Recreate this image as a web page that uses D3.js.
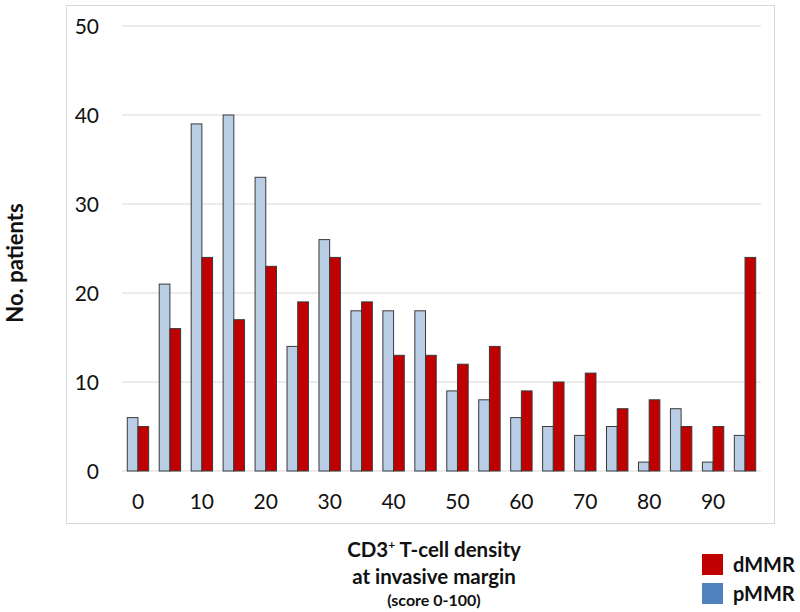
<!DOCTYPE html>
<html><head><meta charset="utf-8">
<script src="https://cdn.jsdelivr.net/npm/d3@7"></script>
<style>body{margin:0;background:#fff;}svg{display:block;}</style>
</head><body>
<svg id="c" width="800" height="612"></svg>
<script>
const categories = ["0","5","10","15","20","25","30","35","40","45","50","55","60","65","70","75","80","85","90","95"];
const tickLabels = ["0","10","20","30","40","50","60","70","80","90"];
const pMMR = [6,21,39,40,33,14,26,18,18,18,9,8,6,5,4,5,1,7,1,4];
const dMMR = [5,16,24,17,23,19,24,19,13,13,12,14,9,10,11,7,8,5,5,24];
const seriesNames = ["pMMR","dMMR"];
const yTicks = [0,10,20,30,40,50];

(function(){
const svg = d3.select("#c");
const font = "Lato, 'Open Sans', sans-serif";
const pLeft = 122, pRight = 761, pTop = 26, pBottom = 471;

svg.append("rect").attr("x",66.5).attr("y",5.5).attr("width",708).attr("height",518)
  .attr("fill","none").attr("stroke","#d9d9d9").attr("stroke-width",1);

const x = d3.scaleBand().domain(categories).range([pLeft,pRight]).paddingInner(0.33).paddingOuter(0.165);
const xs = d3.scaleBand().domain(seriesNames).range([0,x.bandwidth()]);
const y = d3.scaleLinear().domain([0,50]).range([pBottom,pTop]);

// gridlines
svg.append("g").selectAll("line").data(yTicks).join("line")
  .attr("x1",pLeft).attr("x2",pRight).attr("y1",d=>y(d)).attr("y2",d=>y(d))
  .attr("stroke","#e6e6e6").attr("stroke-width",1.5);

// y axis labels
const yAxis = d3.axisLeft(y).tickValues(yTicks).tickSize(0).tickPadding(0);
const ga = svg.append("g").attr("transform","translate(99,0)").call(yAxis);
ga.select(".domain").remove();
ga.selectAll("text").attr("font-family",font).attr("font-size",21).attr("fill","#111").attr("dy","0.35em");

// bars
const colors = {pMMR:"#b9cde5", dMMR:"#c00000"};
const data = categories.map((c,i)=>({c, pMMR:pMMR[i], dMMR:dMMR[i]}));
const g = svg.append("g");
seriesNames.forEach(s=>{
  g.selectAll(null).data(data).join("rect")
    .attr("x",d=>x(d.c)+xs(s))
    .attr("y",d=>y(d[s]))
    .attr("width",xs.bandwidth())
    .attr("height",d=>y(0)-y(d[s]))
    .attr("fill",colors[s]).attr("stroke","#3a3a3a").attr("stroke-width",1);
});

// x tick labels
const xAxis = d3.axisBottom(x).tickValues(categories.filter(c=>tickLabels.includes(c))).tickSize(0).tickPadding(0);
const gx = svg.append("g").attr("transform","translate(0,502)").call(xAxis);
gx.select(".domain").remove();
gx.selectAll("text").attr("font-family",font).attr("font-size",21).attr("fill","#111").attr("dy","0.35em");

// y title
svg.append("text").attr("transform","translate(23,263) rotate(-90)").attr("text-anchor","middle")
  .attr("font-family",font).attr("font-weight","bold").attr("font-size",22).attr("fill","#111").text("No. patients");

// x title
const xt = svg.append("text").attr("text-anchor","middle").attr("font-family",font).attr("font-weight","bold").attr("fill","#111");
const l1 = xt.append("tspan").attr("x",434).attr("y",557).attr("font-size",20.5);
l1.append("tspan").text("CD3");
l1.append("tspan").attr("font-size",12).attr("dy",-8).text("+");
l1.append("tspan").attr("dy",8).text(" T-cell density");
xt.append("tspan").attr("x",434).attr("y",584).attr("font-size",20.5).text("at invasive margin");
xt.append("tspan").attr("x",434).attr("y",606).attr("font-size",16).text("(score 0-100)");

// legend
const legend = [{n:"dMMR",c:"#c00000"},{n:"pMMR",c:"#4f81bd"}];
const lg = svg.append("g");
legend.forEach((d,i)=>{
  lg.append("rect").attr("x",702).attr("y",554+i*29).attr("width",21).attr("height",21).attr("fill",d.c);
  lg.append("text").attr("x",733).attr("y",572+i*29).attr("font-family",font).attr("font-weight","bold")
    .attr("font-size",20).attr("fill","#111").text(d.n);
});
})();
</script>
</body></html>
